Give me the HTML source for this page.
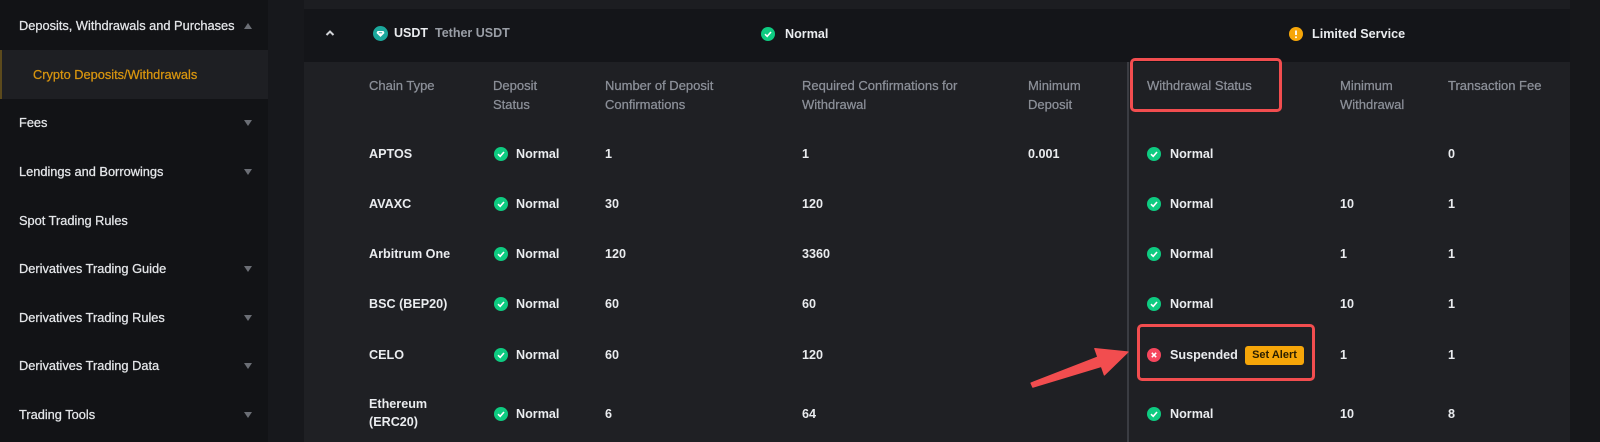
<!DOCTYPE html>
<html><head><meta charset="utf-8">
<style>
*{margin:0;padding:0;box-sizing:border-box}
html,body{width:1600px;height:442px;overflow:hidden;background:#17181c;font-family:"Liberation Sans",Arial,sans-serif}
.a{position:absolute;white-space:nowrap}
.side{left:0;top:0;width:268px;height:442px;background:#121316}
.gap{left:268px;top:0;width:36px;height:442px;background:#17181c}
.si{font-size:12.8px;color:#e4e6e9;line-height:16px;-webkit-text-stroke:0.25px #e4e6e9}
.tri{width:0;height:0;border-left:4px solid transparent;border-right:4px solid transparent;border-top:6px solid #6b6e75}
.triu{width:0;height:0;border-left:4px solid transparent;border-right:4px solid transparent;border-bottom:6px solid #6b6e75}
.hd{font-size:13px;color:#8c9099;line-height:18.5px;-webkit-text-stroke:0.25px #8c9099}
.v{font-size:12.6px;color:#eaecef;font-weight:bold;line-height:16px}
.ic{width:14px;height:14px;border-radius:50%;background:#0ecb81}
.ic svg{display:block}
</style></head><body>
<div class="a side"></div>
<div class="a" style="left:0;top:50px;width:268px;height:49px;background:#1e1f23;border-left:2px solid #5c4a1c"></div>
<div class="a gap"></div>

<div class="a si" style="left:19px;top:18px">Deposits, Withdrawals and Purchases</div>
<div class="a triu" style="left:244px;top:23px"></div>
<div class="a si" style="left:33px;top:67px;color:#d8950f;-webkit-text-stroke:0.25px #d8950f">Crypto Deposits/Withdrawals</div>
<div class="a si" style="left:19px;top:115px">Fees</div>
<div class="a tri" style="left:244px;top:120px"></div>
<div class="a si" style="left:19px;top:164px">Lendings and Borrowings</div>
<div class="a tri" style="left:244px;top:169px"></div>
<div class="a si" style="left:19px;top:213px">Spot Trading Rules</div>
<div class="a si" style="left:19px;top:261px">Derivatives Trading Guide</div>
<div class="a tri" style="left:244px;top:266px"></div>
<div class="a si" style="left:19px;top:310px">Derivatives Trading Rules</div>
<div class="a tri" style="left:244px;top:315px"></div>
<div class="a si" style="left:19px;top:358px">Derivatives Trading Data</div>
<div class="a tri" style="left:244px;top:363px"></div>
<div class="a si" style="left:19px;top:407px">Trading Tools</div>
<div class="a tri" style="left:244px;top:412px"></div>

<!-- main -->
<div class="a" style="left:304px;top:0;width:1266px;height:9px;background:#1c1d21"></div>
<div class="a" style="left:304px;top:9px;width:1266px;height:53px;background:#141519"></div>
<div class="a" style="left:304px;top:62px;width:1266px;height:380px;background:#1f2024"></div>
<div class="a" style="left:1570px;top:0;width:30px;height:442px;background:#16171a"></div>

<!-- header row -->
<svg class="a" style="left:325px;top:29px" width="10" height="8"><polyline points="1.5,6 5,2.5 8.5,6" fill="none" stroke="#d0d2d6" stroke-width="2"/></svg>
<div class="a" style="left:373px;top:26px;width:15px;height:15px;border-radius:50%;background:#1ba89c"></div>
<svg class="a" style="left:375px;top:28px" width="11" height="11"><path d="M2.5,3 L8.5,3 L9.5,5 L5.5,9 L1.5,5 Z" fill="#fff"/><path d="M3.8,4.8 L7.2,4.8" stroke="#1ba89c" stroke-width="1"/></svg>
<div class="a v" style="left:394px;top:25px;font-size:12.5px">USDT</div>
<div class="a v" style="left:435px;top:25px;font-size:12.5px;color:#9a9ea6">Tether USDT</div>
<div class="a ic" style="left:761px;top:27px"><svg width="14" height="14"><polyline points="4,7.2 6.2,9.3 10,5" fill="none" stroke="#fff" stroke-width="1.6"/></svg></div>
<div class="a v" style="left:785px;top:26px">Normal</div>
<div class="a ic" style="left:1289px;top:27px;background:#f6a609"><svg width="14" height="14"><line x1="7" y1="3.5" x2="7" y2="8" stroke="#fff" stroke-width="1.8"/><circle cx="7" cy="10.3" r="1" fill="#fff"/></svg></div>
<div class="a v" style="left:1312px;top:26px">Limited Service</div>

<!-- table headers -->
<div class="a hd" style="left:369px;top:77px">Chain Type</div>
<div class="a hd" style="left:493px;top:77px">Deposit<br>Status</div>
<div class="a hd" style="left:605px;top:77px">Number of Deposit<br>Confirmations</div>
<div class="a hd" style="left:802px;top:77px">Required Confirmations for<br>Withdrawal</div>
<div class="a hd" style="left:1028px;top:77px">Minimum<br>Deposit</div>
<div class="a hd" style="left:1147px;top:77px">Withdrawal Status</div>
<div class="a hd" style="left:1340px;top:77px">Minimum<br>Withdrawal</div>
<div class="a hd" style="left:1448px;top:77px">Transaction Fee</div>

<div class="a" style="left:1127px;top:62px;width:2px;height:380px;background:#3a3c42"></div>

<!-- rows -->
<div class="a v" style="left:369px;top:146px">APTOS</div>
<div class="a ic" style="left:494px;top:147px"><svg width="14" height="14"><polyline points="4,7.2 6.2,9.3 10,5" fill="none" stroke="#fff" stroke-width="1.6"/></svg></div>
<div class="a v" style="left:516px;top:146px">Normal</div>
<div class="a v" style="left:605px;top:146px">1</div>
<div class="a v" style="left:802px;top:146px">1</div>
<div class="a v" style="left:1028px;top:146px">0.001</div>
<div class="a ic" style="left:1147px;top:147px"><svg width="14" height="14"><polyline points="4,7.2 6.2,9.3 10,5" fill="none" stroke="#fff" stroke-width="1.6"/></svg></div>
<div class="a v" style="left:1170px;top:146px">Normal</div>
<div class="a v" style="left:1448px;top:146px">0</div>

<div class="a v" style="left:369px;top:196px">AVAXC</div>
<div class="a ic" style="left:494px;top:197px"><svg width="14" height="14"><polyline points="4,7.2 6.2,9.3 10,5" fill="none" stroke="#fff" stroke-width="1.6"/></svg></div>
<div class="a v" style="left:516px;top:196px">Normal</div>
<div class="a v" style="left:605px;top:196px">30</div>
<div class="a v" style="left:802px;top:196px">120</div>
<div class="a ic" style="left:1147px;top:197px"><svg width="14" height="14"><polyline points="4,7.2 6.2,9.3 10,5" fill="none" stroke="#fff" stroke-width="1.6"/></svg></div>
<div class="a v" style="left:1170px;top:196px">Normal</div>
<div class="a v" style="left:1340px;top:196px">10</div>
<div class="a v" style="left:1448px;top:196px">1</div>

<div class="a v" style="left:369px;top:246px">Arbitrum One</div>
<div class="a ic" style="left:494px;top:247px"><svg width="14" height="14"><polyline points="4,7.2 6.2,9.3 10,5" fill="none" stroke="#fff" stroke-width="1.6"/></svg></div>
<div class="a v" style="left:516px;top:246px">Normal</div>
<div class="a v" style="left:605px;top:246px">120</div>
<div class="a v" style="left:802px;top:246px">3360</div>
<div class="a ic" style="left:1147px;top:247px"><svg width="14" height="14"><polyline points="4,7.2 6.2,9.3 10,5" fill="none" stroke="#fff" stroke-width="1.6"/></svg></div>
<div class="a v" style="left:1170px;top:246px">Normal</div>
<div class="a v" style="left:1340px;top:246px">1</div>
<div class="a v" style="left:1448px;top:246px">1</div>

<div class="a v" style="left:369px;top:296px">BSC (BEP20)</div>
<div class="a ic" style="left:494px;top:297px"><svg width="14" height="14"><polyline points="4,7.2 6.2,9.3 10,5" fill="none" stroke="#fff" stroke-width="1.6"/></svg></div>
<div class="a v" style="left:516px;top:296px">Normal</div>
<div class="a v" style="left:605px;top:296px">60</div>
<div class="a v" style="left:802px;top:296px">60</div>
<div class="a ic" style="left:1147px;top:297px"><svg width="14" height="14"><polyline points="4,7.2 6.2,9.3 10,5" fill="none" stroke="#fff" stroke-width="1.6"/></svg></div>
<div class="a v" style="left:1170px;top:296px">Normal</div>
<div class="a v" style="left:1340px;top:296px">10</div>
<div class="a v" style="left:1448px;top:296px">1</div>

<div class="a v" style="left:369px;top:347px">CELO</div>
<div class="a ic" style="left:494px;top:348px"><svg width="14" height="14"><polyline points="4,7.2 6.2,9.3 10,5" fill="none" stroke="#fff" stroke-width="1.6"/></svg></div>
<div class="a v" style="left:516px;top:347px">Normal</div>
<div class="a v" style="left:605px;top:347px">60</div>
<div class="a v" style="left:802px;top:347px">120</div>
<div class="a ic" style="left:1147px;top:348px;background:#f6465d"><svg width="14" height="14"><path d="M4.8,4.8 L9.2,9.2 M9.2,4.8 L4.8,9.2" stroke="#fff" stroke-width="1.5"/></svg></div>
<div class="a v" style="left:1170px;top:347px">Suspended</div>
<div class="a" style="left:1245px;top:346px;width:59px;height:19px;border-radius:3px;background:#f6a609;color:#2a1e00;font-size:11px;font-weight:bold;line-height:19px;text-align:center">Set Alert</div>
<div class="a v" style="left:1340px;top:347px">1</div>
<div class="a v" style="left:1448px;top:347px">1</div>

<div class="a v" style="left:369px;top:395px;line-height:18px">Ethereum<br>(ERC20)</div>
<div class="a ic" style="left:494px;top:407px"><svg width="14" height="14"><polyline points="4,7.2 6.2,9.3 10,5" fill="none" stroke="#fff" stroke-width="1.6"/></svg></div>
<div class="a v" style="left:516px;top:406px">Normal</div>
<div class="a v" style="left:605px;top:406px">6</div>
<div class="a v" style="left:802px;top:406px">64</div>
<div class="a ic" style="left:1147px;top:407px"><svg width="14" height="14"><polyline points="4,7.2 6.2,9.3 10,5" fill="none" stroke="#fff" stroke-width="1.6"/></svg></div>
<div class="a v" style="left:1170px;top:406px">Normal</div>
<div class="a v" style="left:1340px;top:406px">10</div>
<div class="a v" style="left:1448px;top:406px">8</div>

<!-- red highlight boxes -->
<div class="a" style="left:1130px;top:58px;width:152px;height:54px;border:3px solid #f24d4f;border-radius:5px"></div>
<div class="a" style="left:1137px;top:324px;width:178px;height:57px;border:3px solid #f24d4f;border-radius:5px"></div>

<!-- arrow -->
<svg class="a" style="left:0;top:0" width="1600" height="442">
<polygon points="1031,383 1097.8,357 1094.8,348.6 1128,352 1104.4,375 1101.4,366.4 1032.8,387.2" fill="#f24d4f" stroke="#f24d4f" stroke-width="1.2" stroke-linejoin="round"/>
</svg>
</body></html>
